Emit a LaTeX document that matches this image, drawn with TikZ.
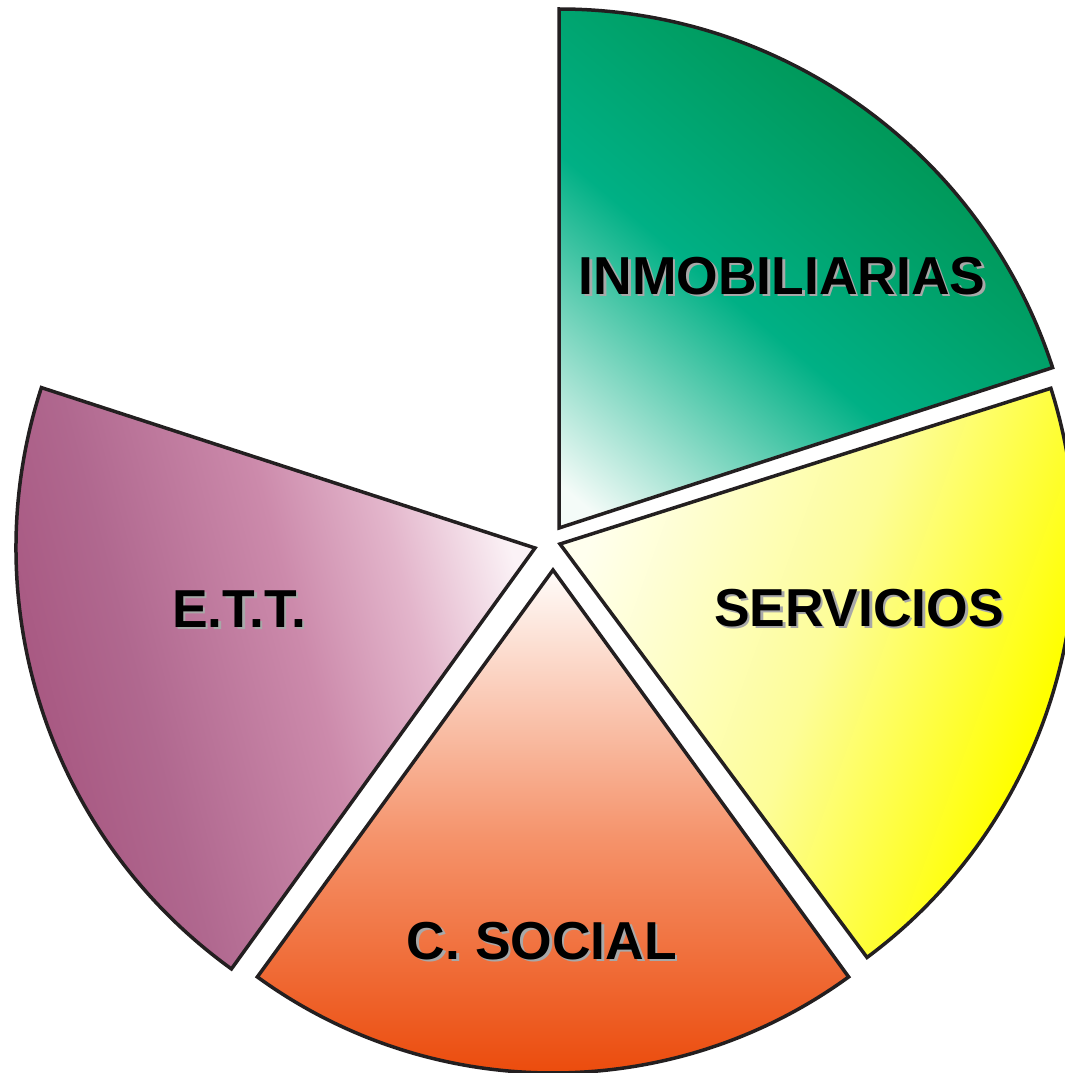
\documentclass[tikz,border=0pt]{standalone}
\usepackage{fontspec}
\newfontfamily\piefont{Liberation Sans}

\definecolor{edgegray}{HTML}{231F20}
\definecolor{inmobdark}{HTML}{008F48}
\definecolor{inmobmid}{HTML}{00B085}
\definecolor{inmoblight}{HTML}{F4FBF8}
\definecolor{servlight}{HTML}{FFFFEE}
\definecolor{servmid}{HTML}{FDFD98}
\definecolor{servdark}{HTML}{FFFF00}
\definecolor{sociallight}{HTML}{FFFCFA}
\definecolor{socialmid}{HTML}{F5936B}
\definecolor{socialdark}{HTML}{EA4200}
\definecolor{ettlight}{HTML}{FBF2F6}
\definecolor{ettpale}{HTML}{E3B5CB}
\definecolor{ettmid}{HTML}{CC8AAB}
\definecolor{ettdeep}{HTML}{B0688F}
\definecolor{ettdark}{HTML}{A34F7A}
\definecolor{shadowgray}{HTML}{A8A8A8}

\pgfdeclareverticalshading{inmobshade}{100bp}{color(0bp)=(inmoblight); color(18bp)=(inmoblight); color(43bp)=(inmobmid); color(75bp)=(inmobdark); color(100bp)=(inmobdark)}
\pgfdeclareverticalshading{servshade}{100bp}{color(0bp)=(servlight); color(25bp)=(servlight); color(48bp)=(servmid); color(68bp)=(servdark); color(100bp)=(servdark)}
\pgfdeclareverticalshading{ettshade}{100bp}{color(0bp)=(ettdark); color(25bp)=(ettdark); color(40bp)=(ettdeep); color(55bp)=(ettmid); color(65bp)=(ettpale); color(75bp)=(ettlight); color(100bp)=(ettlight)}

\tikzset{
  slice/.style={draw=edgegray, line width=0.035cm, line join=miter},
  pielabel/.style={font=\piefont\bfseries\fontsize{15.2}{18}\selectfont, inner sep=0pt},
  pieshadow/.style={pielabel, text=shadowgray, xshift=0.25mm, yshift=-0.25mm},
}

\begin{document}
\begin{tikzpicture}
		\useasboundingbox (0, 0) rectangle (10.65, 10.73);
		\clip (0, 0) rectangle (10.65, 10.73);
		% apex of each slice
		\coordinate (inmob) at (5.59, 5.45);
		\coordinate (serv) at (5.60, 5.29);
		\coordinate (social) at (5.53, 5.03);
		\coordinate (ett) at (5.35, 5.25);
		% slices
		\draw[slice, shading = inmobshade, shading angle = -40]
			(inmob) -- ++(90:5.19) arc[start angle = 90, end angle = 18, radius = 5.19] -- cycle;
		\draw[slice, shading = servshade, shading angle = -110]
			(serv) -- ++(17.6:5.15) arc[start angle = 17.6, end angle = -53.4, radius = 5.15] -- cycle;
		\draw[slice, top color = sociallight, bottom color = socialdark, middle color = socialmid]
			(social) -- ++(-54:5.03) arc[start angle = -54, end angle = -126, radius = 5.03] -- cycle;
		\draw[slice, shading = ettshade, shading angle = -75]
			(ett) -- ++(162:5.19) arc[start angle = 162, end angle = 234.2, radius = 5.19] -- cycle;
		% labels
		\node[pieshadow] (inmobshadow) at (7.82, 7.97) {INMOBILIARIAS};
		\node[pielabel] (inmoblabel) at (7.82, 7.97) {INMOBILIARIAS};
		\node[pieshadow] (servshadow) at (8.59, 4.65) {SERVICIOS};
		\node[pielabel] (servlabel) at (8.59, 4.65) {SERVICIOS};
		\node[pieshadow] (socialshadow) at (5.42, 1.32) {C. SOCIAL};
		\node[pielabel] (sociallabel) at (5.42, 1.32) {C. SOCIAL};
		\node[pieshadow] (ettshadow) at (2.39, 4.64) {E.T.T.};
		\node[pielabel] (ettlabel) at (2.39, 4.64) {E.T.T.};
	\end{tikzpicture}
\end{document}
